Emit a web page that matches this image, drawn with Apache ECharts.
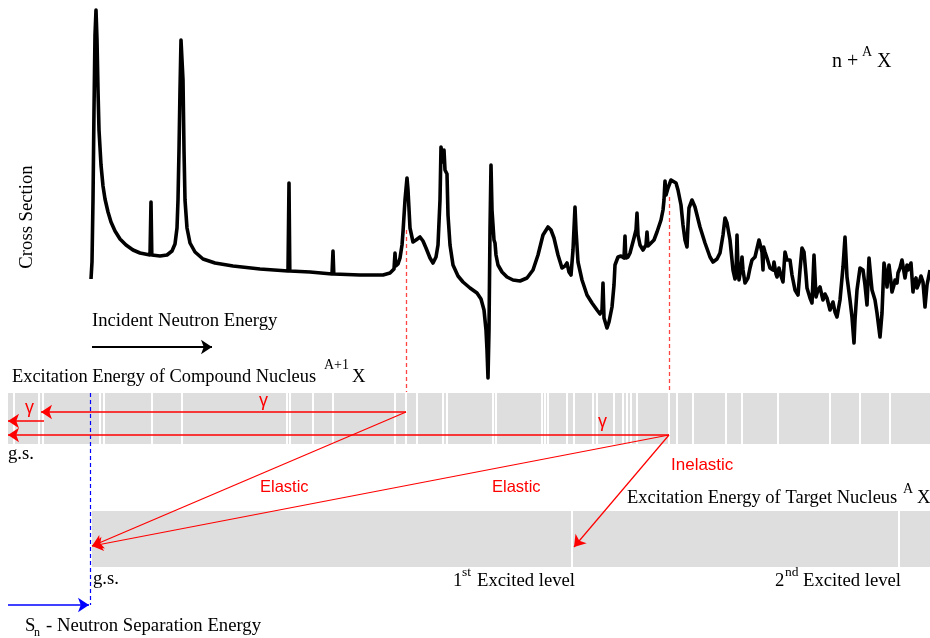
<!DOCTYPE html>
<html><head><meta charset="utf-8">
<script src="https://cdn.jsdelivr.net/npm/echarts@6/dist/echarts.min.js"></script>
<style>html,body{margin:0;padding:0;background:#fff}#c{width:930px;height:638px}</style>
</head><body><div id="c"></div>
<script>
// ---- data (schematic energy units; x = energy, y = depth on page scale) ----
const crossSection = [
[91,279],[92,262],[93,200],[94,110],[95,35],[96,10],[97,40],[98,90],[99,130],[101,165],[103,186],[105,199],[108,212],[111,222],[115,231],[120,239],[126,245],[133,250],[140,253],[150,255],[150.5,255],[151,202],[151.8,255],[160,256],[167,255],[172,251],[175,244],[177,228],[178,200],[179,150],[180,90],[181,40],[182,38],[183,80],[184,150],[185,200],[187,228],[190,243],[195,252],[203,259],[215,263],[233,266],[260,269],[288,271],[288.5,271],[289,183],[289.8,271],[310,272],[332,274],[332.5,274],[333,251],[333.8,274],[360,275],[383,275],[390,273],[394,269],[394.5,269],[395,253],[395.8,266],[398,264],[400,258],[402,245],[403,232],[405,200],[407,178],[408,190],[410,228],[413,242],[416,240],[420,237],[423,241],[426,248],[430,258],[433,263],[436,257],[438,245],[440,200],[441,147],[442,155],[443,162],[444,150],[445,170],[447,174],[448,215],[450,245],[453,265],[458,276],[463,282],[470,288],[477,293],[481,299],[484,310],[486,330],[487,350],[488,378],[489,330],[490,230],[491,165],[492,210],[494,240],[495,243],[496,255],[498,265],[502,272],[507,277],[513,280],[520,281],[527,278],[533,270],[538,255],[543,235],[548,227],[551,230],[554,238],[558,255],[562,268],[565,266],[567,263],[569,272],[571,275],[573,250],[575,207],[576,230],[578,262],[582,280],[587,295],[592,303],[597,310],[600,314],[602,310],[603,283],[604,318],[607,328],[609,322],[612,307],[614,285],[615,265],[618,257],[621,256],[624,258],[624.5,258],[625,236],[625.8,258],[628,257],[630,253],[634,238],[636,230],[637,213],[638,235],[640,245],[643,250],[646,245],[647,232],[648,246],[650,248],[654,240],[657,232],[661,220],[663,210],[664,200],[665,181],[666,195],[668,188],[671,180],[673,179],[676,183],[678,190],[681,205],[683,225],[685,240],[687,247],[688,225],[689,208],[692,200],[695,207],[700,227],[705,243],[710,257],[713,262],[717,259],[720,253],[723,235],[725,218],[727,223],[730,240],[733,270],[735,279],[736,276],[737,235],[737.8,262],[739,280],[741,268],[742,257],[743,270],[745,283],[748,278],[750,268],[752,260],[755,257],[757,258],[759,240],[761,238],[762,252],[763,270],[763.6,247],[765,252],[767,258],[770,268],[773,270],[774,262],[776,274],[777,277],[779,268],[781,276],[783,282],[785,252],[787,260],[790,260],[792,275],[795,290],[798,295],[800,270],[802,248],[804,252],[806,275],[807,288],[810,298],[812,303],[814,255],[816,297],[818,290],[820,287],[822,296],[823,300],[825,294],[827,298],[829,306],[830,310],[833,302],[835,312],[837,317],[840,300],[843,267],[845,237],[847,277],[850,300],[852,317],[854,343],[855,320],[857,290],[860,268],[863,270],[865,285],[867,305],[869,258],[871,280],[872,290],[875,300],[877,313],[880,337],[882,313],[884,263],[886,275],[887,287],[889,265],[891,282],[892,292],[894,285],[895,280],[897,283],[898,273],[900,268],[902,260],[904,272],[905,278],[907,265],[908,270],[911,263],[913,292],[914,282],[916,278],[917,288],[919,283],[921,276],[923,282],[925,307],[927,285],[930,270]
];
const compoundBand = [8, 930, 393, 444];
const targetBand = [92, 930, 511, 567];
const compoundLevels = [14,39,43,100,104,152,182,287,290,313,333,395,406,417,443,447,493,496,542,545,548,567,574,593,597,614,623,627,631,637,669,677,693,726,742,778,830,860,890];
const targetLevels = [572, 899];
const gammaTransitions = [
  [[406,412],[41,412]],
  [[44,421],[8,421]],
  [[669,435],[8,435]]
];
const neutronTransitions = [
  [[406,412],[92,546]],
  [[669,435],[92,546]],
  [[669,435],[574,547]]
];
const resonanceMarkers = [
  [[406,230],[406,392]],
  [[669,197],[669,392]]
];
const separationMarker = [[90,393],[90,605]];
const separationArrow = [[8,605],[89,605]];
const incidentArrow = [[92,347],[212,347]];

// ---- chart ----
const chart = echarts.init(document.getElementById('c'), null, {renderer:'canvas'});

function T(x, base, text, size, opt) {
  opt = opt || {};
  const fam = opt.sans ? '"Liberation Sans", Arial, sans-serif' : '"Liberation Serif", "Times New Roman", serif';
  return {type:'text', x:x, y: base - 0.34*size, z:100,
    style:{text:text, font: size + 'px ' + fam, fill: opt.color || '#000',
      align:'left', textAlign:'left', verticalAlign:'middle', textVerticalAlign:'middle'}};
}
const RED = '#ff0000';
const F = 18.7;
const graphics = [
  T(92,327,'Incident Neutron Energy',F),
  T(12,383,'Excitation Energy of Compound Nucleus',18.4),
  T(324,370,'A+1',14),
  T(352,383,'X',F),
  T(832,69,'n +',20),
  T(862,57,'A',14),
  T(877,69,'X',20),
  T(8,460,'g.s.',F),
  T(93,585,'g.s.',F),
  T(453,587,'1',F),
  T(462,577,'st',13.5),
  T(477,587,'Excited level',F),
  T(775,587,'2',F),
  T(785,577,'nd',13.5),
  T(803,587,'Excited level',F),
  T(627,504,'Excitation Energy of Target Nucleus',18.5),
  T(903,494,'A',14),
  T(917,504,'X',F),
  T(25,632,'S',F),
  T(34,637,'n',12),
  T(46,632,'- Neutron Separation Energy',F),
  T(260,493,'Elastic',16.5,{sans:true,color:RED}),
  T(492,493,'Elastic',16.5,{sans:true,color:RED}),
  T(671,471,'Inelastic',17,{sans:true,color:RED}),
  T(25,414,'\u03b3',18,{sans:true,color:RED}),
  T(259,407,'\u03b3',18,{sans:true,color:RED}),
  T(598,428,'\u03b3',18,{sans:true,color:RED}),
  {type:'text', x:27, y:217, rotation:Math.PI/2, z:100,
    style:{text:'Cross Section', font:F + 'px "Liberation Serif", "Times New Roman", serif', fill:'#000',
      align:'center', textAlign:'center', verticalAlign:'middle', textVerticalAlign:'middle'}}
];

function bandSeries(band, z) {
  return {type:'custom', z:z, silent:true, data:[band],
    renderItem:function(params, api){
      const p0 = api.coord([api.value(0), api.value(2)]);
      const p1 = api.coord([api.value(1), api.value(3)]);
      return {type:'rect', shape:{x:p0[0], y:p0[1], width:p1[0]-p0[0], height:p1[1]-p0[1]}, style:{fill:'#dedede'}};
    }};
}
function levelSeries(levels, band, z) {
  return {type:'custom', z:z, silent:true, data: levels.map(function(x){return [x, band[2], band[3]];}),
    renderItem:function(params, api){
      const a = api.coord([api.value(0), api.value(1)]);
      const b = api.coord([api.value(0), api.value(2)]);
      return {type:'line', shape:{x1:a[0], y1:a[1], x2:b[0], y2:b[1]}, style:{stroke:'#ffffff', lineWidth:2}};
    }};
}
function lineSeries(list, style, arrow, z) {
  return {type:'lines', coordinateSystem:'cartesian2d', z:z, silent:true,
    symbol: arrow ? ['none','arrow'] : ['none','none'], symbolSize: arrow ? 11 : 0,
    lineStyle: style, data: list.map(function(c){return {coords:c};})};
}

chart.setOption({
  animation:false,
  backgroundColor:'#ffffff',
  grid:{left:0, right:0, top:0, bottom:0, containLabel:false},
  xAxis:{type:'value', min:0, max:930, show:false},
  yAxis:{type:'value', min:0, max:638, inverse:true, show:false},
  graphic: graphics,
  series:[
    bandSeries(compoundBand, 1),
    bandSeries(targetBand, 1),
    levelSeries(compoundLevels, compoundBand, 2),
    levelSeries(targetLevels, targetBand, 2),
    {type:'line', z:5, data: crossSection, showSymbol:false, symbol:'none', smooth:false,
      lineStyle:{color:'#000', width:3.6, join:'round'}, silent:true},
    lineSeries(resonanceMarkers, {color:'#ff4444', width:1.3, type:[4,3], opacity:1}, false, 3),
    lineSeries([separationMarker], {color:'#0000ff', width:1.2, type:[4,3], opacity:1}, false, 3),
    lineSeries([separationArrow], {color:'#0000ff', width:1.5, opacity:1}, true, 4),
    lineSeries([incidentArrow], {color:'#000', width:2, opacity:1}, true, 4),
    lineSeries(gammaTransitions, {color:RED, width:1.6, opacity:1}, true, 4),
    lineSeries(neutronTransitions, {color:RED, width:1.2, opacity:1}, true, 4)
  ]
});
</script></body></html>
